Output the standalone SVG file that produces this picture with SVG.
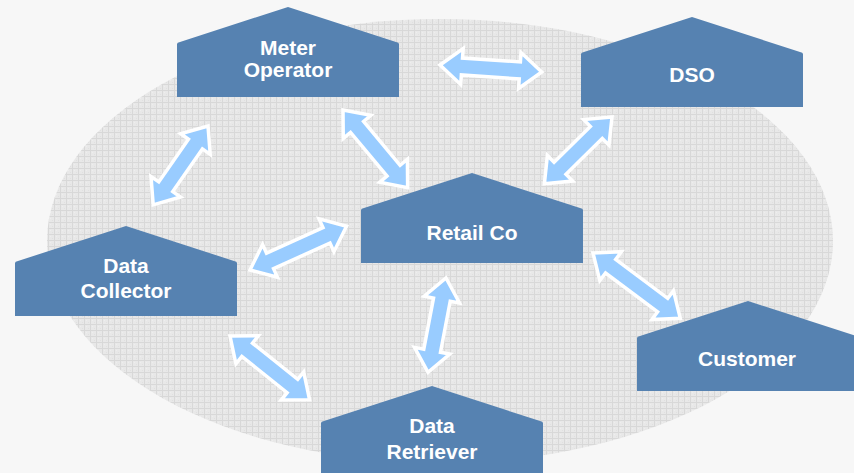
<svg xmlns="http://www.w3.org/2000/svg" xmlns:xlink="http://www.w3.org/1999/xlink" width="854" height="473" viewBox="0 0 854 473">
  <style>
    .node { fill: #5682b1; }
    .lbl { font-family: "Liberation Sans", Arial, sans-serif; font-weight: bold; font-size: 21px; fill: #ffffff; text-anchor: middle; }
    .arrow { fill: #99ccff; stroke: #ffffff; stroke-width: 3.5; stroke-linejoin: miter; }
  </style>
  <defs>
    <pattern id="grid" width="6" height="6" patternUnits="userSpaceOnUse">
      <rect width="6" height="6" fill="#e8e8e8"/>
      <path d="M0,0.5 H6 M0.5,0 V6" stroke="#d8d8d8" stroke-width="1" fill="none"/>
      <rect x="2" y="2" width="1" height="1" fill="#eeeeee"/>
      <rect x="4" y="4" width="1" height="1" fill="#e0e0e0"/>
    </pattern>
    <path id="house" d="M0,90 V37 Q0,35.5 3,35 L111,0 L219,35 Q222,35.5 222,37 V90 Z"/>
  </defs>

  <rect width="854" height="473" fill="#f7f7f7"/>
  <ellipse cx="440" cy="241" rx="393" ry="222" fill="url(#grid)"/>

  <g id="connectors">
    <polygon class="arrow" transform="translate(440,65) rotate(3.9)" points="0,0 22,-18 22,-8.5 80,-8.5 80,-18 102,0 80,18 80,8.5 22,8.5 22,18"/>
    <polygon class="arrow" transform="translate(208,126) rotate(124.8)" points="0,0 22,-18 22,-8.5 74,-8.5 74,-18 96,0 74,18 74,8.5 22,8.5 22,18"/>
    <polygon class="arrow" transform="translate(343,110) rotate(50.2)" points="0,0 22,-18 22,-8.5 79,-8.5 79,-18 101,0 79,18 79,8.5 22,8.5 22,18"/>
    <polygon class="arrow" transform="translate(612,117) rotate(135.4)" points="0,0 22,-18 22,-8.5 73,-8.5 73,-18 95,0 73,18 73,8.5 22,8.5 22,18"/>
    <polygon class="arrow" transform="translate(250,270) rotate(-24.4)" points="0,0 22,-18 22,-8.5 84,-8.5 84,-18 106,0 84,18 84,8.5 22,8.5 22,18"/>
    <polygon class="arrow" transform="translate(446,278) rotate(100.8)" points="0,0 22,-18 22,-8.5 74,-8.5 74,-18 96,0 74,18 74,8.5 22,8.5 22,18"/>
    <polygon class="arrow" transform="translate(593,253) rotate(36.8)" points="0,0 22,-18 22,-8.5 87,-8.5 87,-18 109,0 87,18 87,8.5 22,8.5 22,18"/>
    <polygon class="arrow" transform="translate(230,336) rotate(38.7)" points="0,0 22,-18 22,-8.5 80,-8.5 80,-18 102,0 80,18 80,8.5 22,8.5 22,18"/>
  </g>

  <g id="meter-operator">
    <use xlink:href="#house" class="node" transform="translate(177,7)"/>
    <text class="lbl" x="288" y="55">Meter</text>
    <text class="lbl" x="288" y="77">Operator</text>
  </g>
  <g id="dso">
    <use xlink:href="#house" class="node" transform="translate(581,17)"/>
    <text class="lbl" x="692" y="82">DSO</text>
  </g>
  <g id="retail-co">
    <use xlink:href="#house" class="node" transform="translate(361,173)"/>
    <text class="lbl" x="472" y="240">Retail Co</text>
  </g>
  <g id="data-collector">
    <use xlink:href="#house" class="node" transform="translate(15,226)"/>
    <text class="lbl" x="126" y="273">Data</text>
    <text class="lbl" x="126" y="298">Collector</text>
  </g>
  <g id="data-retriever">
    <use xlink:href="#house" class="node" transform="translate(321,386)"/>
    <text class="lbl" x="432" y="433">Data</text>
    <text class="lbl" x="432" y="459">Retriever</text>
  </g>
  <g id="customer">
    <use xlink:href="#house" class="node" transform="translate(637,301)"/>
    <text class="lbl" x="747" y="366">Customer</text>
  </g>
</svg>
